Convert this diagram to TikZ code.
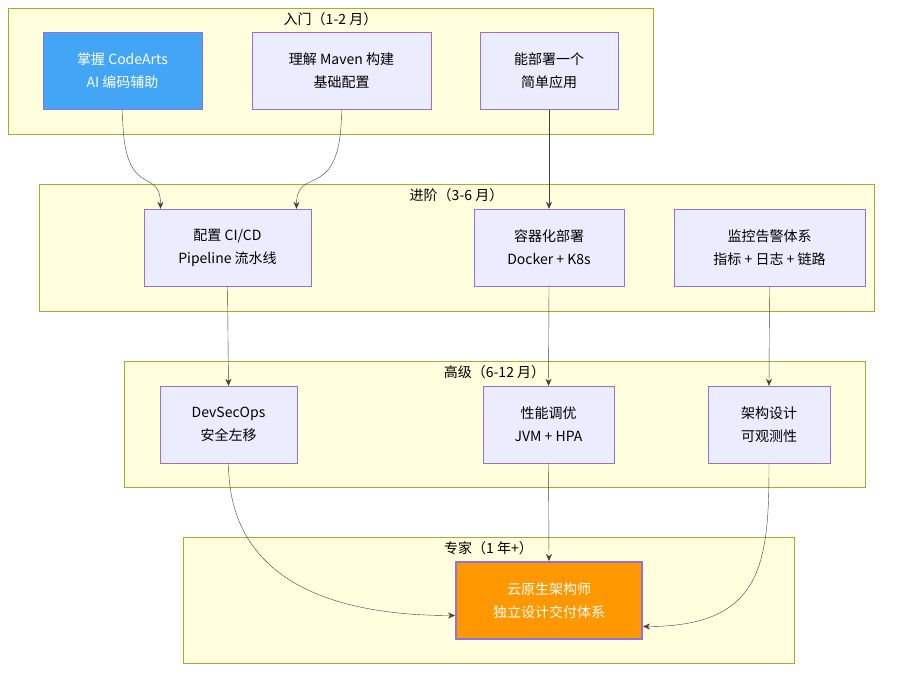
\documentclass[tikz,border=0pt]{standalone}
\usepackage{fontspec}
\setmainfont{Noto Sans CJK SC}
\usetikzlibrary{positioning,arrows.meta}
\definecolor{boxfill}{HTML}{ECECFF}
\definecolor{boxline}{HTML}{9370DB}
\definecolor{grpfill}{HTML}{FFFFDE}
\definecolor{grpline}{HTML}{AAAA33}
\definecolor{bluefill}{HTML}{42A5F5}
\definecolor{orangefill}{HTML}{FF9800}
\begin{document}
\begin{tikzpicture}[x=1pt,y=-1pt,
    every node/.style={align=center, font=\fontsize{14}{23}\selectfont},
    task/.style={rectangle, draw=boxline, fill=boxfill, minimum height=77pt},
    stage/.style={draw=grpline, fill=grpfill},
    link/.style={draw=black!75, -{Stealth[length=7pt,width=6pt]}},
  ]
  \useasboundingbox (0,0) rectangle (915,678);
  % stages
  \draw[stage] (8,8) rectangle (653,134);
  \draw[stage] (39,184) rectangle (874,311);
  \draw[stage] (124,361) rectangle (865,487);
  \draw[stage] (183,537) rectangle (794,663);
  \node (t1) at (330.5,19) {入门（1-2 月）};
  \node (t2) at (456.5,195) {进阶（3-6 月）};
  \node (t3) at (494.5,372) {高级（6-12 月）};
  \node (t4) at (488.5,548) {专家（1 年+）};
  % tasks
  \node[task, fill=bluefill, text=white, minimum width=159pt] (codearts) at (122.5,71) {掌握 CodeArts\\AI 编码辅助};
  \node[task, minimum width=179pt] (maven) at (341.5,71) {理解 Maven 构建\\基础配置};
  \node[task, minimum width=138pt] (deploy) at (549,71) {能部署一个\\简单应用};
  \node[task, minimum width=167pt] (cicd) at (227.5,247.5) {配置 CI/CD\\Pipeline 流水线};
  \node[task, minimum width=150pt] (docker) at (549,247.5) {容器化部署\\Docker + K8s};
  \node[task, minimum width=191pt] (monitor) at (769.5,247.5) {监控告警体系\\指标 + 日志 + 链路};
  \node[task, minimum width=137pt] (devsecops) at (228.5,424.5) {DevSecOps\\安全左移};
  \node[task, minimum width=131pt] (tuning) at (548.5,424.5) {性能调优\\JVM + HPA};
  \node[task, minimum width=122pt] (arch) at (769,424.5) {架构设计\\可观测性};
  \node[task, fill=orangefill, line width=2pt, text=white, minimum width=186pt] (expert) at (549,600.5) {云原生架构师\\独立设计交付体系};
  % links
  \draw[link] (codearts.south) .. controls +(0,95) and +(0,-45) .. ([xshift=-67pt]cicd.north);
  \draw[link] (maven.south) .. controls +(0,95) and +(0,-45) .. ([xshift=69pt]cicd.north);
  \draw[link] (deploy.south) -- (docker.north);
  \draw[link] (cicd.south) -- (devsecops.north);
  \draw[link] (docker.south) -- (tuning.north);
  \draw[link] (monitor.south) -- (arch.north);
  \draw[link] (devsecops.south) .. controls +(0,100) and +(-150,0) .. ([yshift=-15pt]expert.west);
  \draw[link] (tuning.south) -- (expert.north);
  \draw[link] (arch.south) .. controls +(0,100) and +(120,0) .. ([yshift=-26pt]expert.east);
\end{tikzpicture}
\end{document}
